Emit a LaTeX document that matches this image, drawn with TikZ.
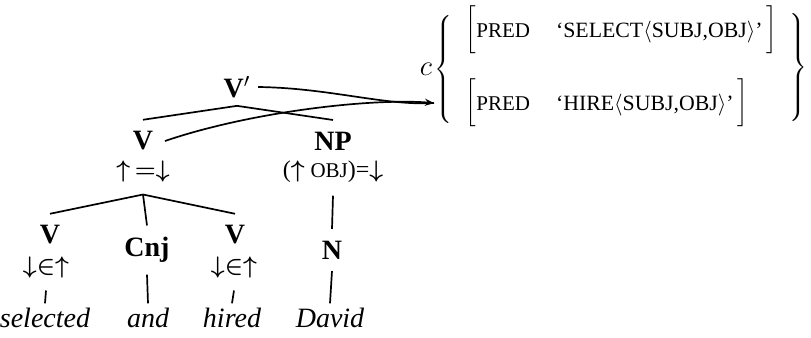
\documentclass[tikz,border=0pt]{standalone}
\usepackage{fontspec}
\setmainfont{Liberation Serif}
\usetikzlibrary{arrows.meta}
\newcommand\fsc[1]{{\fontsize{10.5}{12}\selectfont #1}}
\newcommand\fscval[1]{{\fontsize{10.9}{12}\selectfont #1}}
\newcommand\predrow[1]{$\left[\vcenter{\hbox{\rule{0pt}{22pt}}}\mbox{\fsc{PRED}\hspace{13pt}\fscval{`#1$\langle$SUBJ,OBJ$\rangle$'}\hspace{2pt}}\right]$}
\delimiterfactor=1000
\delimitershortfall=0pt

\begin{document}
\begin{tikzpicture}[x=0.5pt, y=-0.5pt, line width=0.85pt,
  every node/.style={font=\fontsize{14}{17}\selectfont},
  cat/.style={font=\fontsize{14}{17}\selectfont\bfseries, inner sep=5.5pt},
  ann/.style={font=\boldmath\fontsize{12}{14}\selectfont, inner sep=6pt},
  word/.style={font=\fontsize{14}{17}\selectfont\itshape, inner sep=2pt},
  row/.style={anchor=west, inner sep=0pt}]
  \useasboundingbox (0,0) rectangle (811,338);

  % top of the tree
  \node[cat, inner sep=3.5pt] (vbar) at (237,87) {V$'$};
  \node[cat] (v) at (143,141) {V};
  \node[cat] (np) at (333,141) {NP};
  \node[ann] (v-ann) at (143,171) {${\uparrow}\,{=}{\downarrow}$};
  \node[ann] (np-ann) at (333,172) {($\uparrow$ \fsc{OBJ})=$\downarrow$};
  \draw (vbar.south) -- (v.north);
  \draw (vbar.south) -- (np.north);

  % coordination
  \node[cat] (v1) at (50,235) {V};
  \node[cat] (cnj) at (147,250) {Cnj};
  \node[cat] (v2) at (235,235) {V};
  \node[cat] (n) at (332,250) {N};
  \node[ann] (v1-ann) at (46,267) {${\downarrow}{\in}{\uparrow}$};
  \node[ann] (v2-ann) at (234,267) {${\downarrow}{\in}{\uparrow}$};
  \draw (v-ann.south) -- (v1.north);
  \draw (v-ann.south) -- (cnj.north);
  \draw (v-ann.south) -- (v2.north);
  \draw (np-ann.south) -- (n.north);

  % words
  \node[word] (w-sel) at (45,318) {selected};
  \node[word] (w-and) at (148,318) {and};
  \node[word] (w-hire) at (232,318) {hired};
  \node[word] (w-david) at (330,318) {David};
  \draw (v1-ann.south) -- (w-sel.north);
  \draw (cnj.south) -- (w-and.north);
  \draw (v2-ann.south) -- (w-hire.north);
  \draw (n.south) -- (w-david.north);

  % f-structure set
  \node[font=\fontsize{15}{17}\selectfont] (c) at (426,69) {$c$};
  \node[anchor=west, inner sep=0pt] (lbrace) at (434,69) {$\left\{\vcenter{\hbox{\rule{0pt}{50pt}}}\right.$};
  \node[row] (sel) at (465,30) {\predrow{SELECT}};
  \node[row] (hire) at (465,103) {\predrow{HIRE}};
  \node[anchor=east, inner sep=0pt] (rbrace) at (808,67) {$\left.\vcenter{\hbox{\rule{0pt}{52pt}}}\right\}$};

  % mapping
  \coordinate (tip) at (lbrace.west |- hire.west);
  \draw (vbar.east) .. controls (330,88) and (385,106) .. (tip);
  \draw[-{Stealth[length=4.5pt,width=3.5pt]}] (v.east) .. controls (250,112) and (370,98) .. (tip);
\end{tikzpicture}
\end{document}
